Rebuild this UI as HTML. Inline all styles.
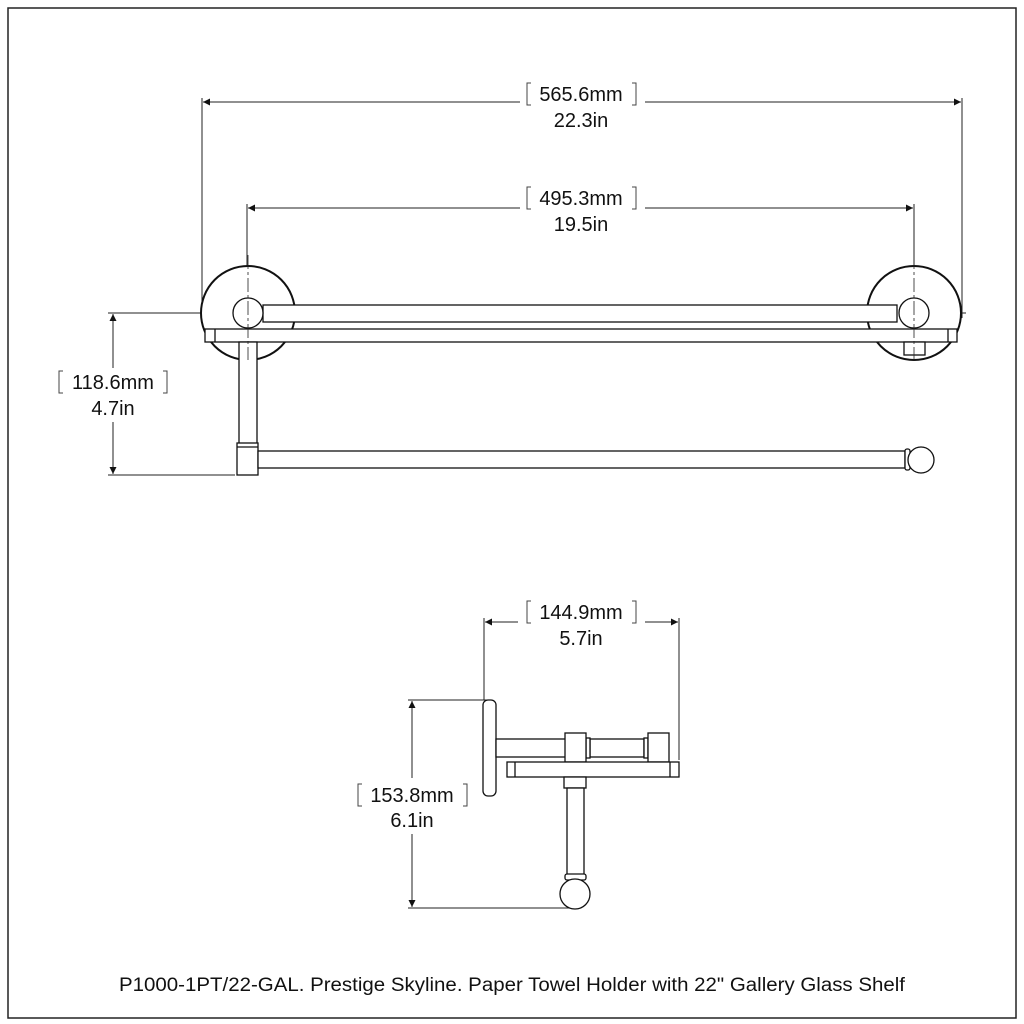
<!DOCTYPE html>
<html><head><style>body{margin:0;background:#fff}svg{display:block}text{font-family:"Liberation Sans",sans-serif;fill:#111}</style></head><body>
<svg width="1024" height="1024" viewBox="0 0 1024 1024" xmlns="http://www.w3.org/2000/svg">
<defs><marker id="a" viewBox="0 0 10 10" refX="10" refY="5" markerWidth="10" markerHeight="7" orient="auto-start-reverse" markerUnits="userSpaceOnUse"><path d="M0,0L10,5L0,10z" fill="#111"/></marker></defs>
<rect x="8" y="8" width="1008" height="1010" fill="none" stroke="#222" stroke-width="1.5"/>
<g stroke="#222" stroke-width="1" fill="none">
<line x1="202" y1="98" x2="202" y2="318"/><line x1="962" y1="98" x2="962" y2="318"/>
<line x1="203" y1="102" x2="520" y2="102" marker-start="url(#a)"/><line x1="645" y1="102" x2="961" y2="102" marker-end="url(#a)"/>
<line x1="247" y1="204" x2="247" y2="335"/><line x1="914" y1="204" x2="914" y2="338"/>
<line x1="248" y1="208" x2="520" y2="208" marker-start="url(#a)"/><line x1="645" y1="208" x2="913" y2="208" marker-end="url(#a)"/>
<line x1="108" y1="313" x2="200" y2="313"/><line x1="108" y1="475" x2="235" y2="475"/>
<line x1="113" y1="314" x2="113" y2="368" marker-start="url(#a)"/><line x1="113" y1="422" x2="113" y2="474" marker-end="url(#a)"/>
<line x1="200" y1="313" x2="296" y2="313" stroke-dasharray="14,3,3,3"/><line x1="866" y1="313" x2="966" y2="313" stroke-dasharray="14,3,3,3"/>
</g>
<g stroke="#111" stroke-width="1.3" fill="#fff">
<circle cx="248" cy="313" r="47" stroke-width="2"/>
<circle cx="914" cy="313" r="47" stroke-width="2"/>
<rect x="263" y="305" width="634" height="17"/>
<rect x="205" y="329" width="752" height="13"/>
<line x1="215" y1="329" x2="215" y2="342"/><line x1="948" y1="329" x2="948" y2="342"/>
<circle cx="248" cy="313" r="15"/><circle cx="914" cy="313" r="15"/>
<rect x="904" y="342" width="21" height="13"/>
<rect x="239" y="342" width="18" height="102"/>
<rect x="237" y="443" width="21" height="32"/>
<line x1="237" y1="447" x2="258" y2="447"/>
<rect x="258" y="451" width="647" height="17"/>
<rect x="905" y="449" width="5" height="21" rx="2"/>
<circle cx="921" cy="460" r="13"/>
</g>
<g stroke="#222" stroke-width="0.8">
<line x1="248" y1="255" x2="248" y2="360" stroke-dasharray="14,3,3,3"/><line x1="914" y1="255" x2="914" y2="362" stroke-dasharray="14,3,3,3"/>
</g>
<g stroke="#222" stroke-width="1" fill="none">
<line x1="484" y1="618" x2="484" y2="700"/><line x1="679" y1="618" x2="679" y2="760"/>
<line x1="485" y1="622" x2="518" y2="622" marker-start="url(#a)"/><line x1="645" y1="622" x2="678" y2="622" marker-end="url(#a)"/>
<line x1="408" y1="700" x2="488" y2="700"/><line x1="408" y1="908" x2="575" y2="908"/>
<line x1="412" y1="701" x2="412" y2="778" marker-start="url(#a)"/><line x1="412" y1="834" x2="412" y2="907" marker-end="url(#a)"/>
</g>
<g stroke="#111" stroke-width="1.3" fill="#fff">
<rect x="483" y="700" width="13" height="96" rx="5"/>
<rect x="496" y="739" width="70" height="18"/>
<rect x="590" y="739" width="54" height="18"/>
<rect x="586" y="738" width="4" height="20"/><rect x="644" y="738" width="4" height="20"/>
<rect x="565" y="733" width="21" height="29"/><rect x="648" y="733" width="21" height="29"/>
<rect x="507" y="762" width="172" height="15"/>
<line x1="515" y1="762" x2="515" y2="777"/><line x1="670" y1="762" x2="670" y2="777"/>
<rect x="564" y="777" width="22" height="11"/>
<rect x="567" y="788" width="17" height="87"/>
<rect x="565" y="874" width="21" height="6" rx="2"/>
<circle cx="575" cy="894" r="15"/>
</g>
<g font-size="20" text-anchor="middle">
<text x="581" y="101">565.6mm</text><text x="581" y="127">22.3in</text>
<text x="581" y="205">495.3mm</text><text x="581" y="231">19.5in</text>
<text x="113" y="389">118.6mm</text><text x="113" y="415">4.7in</text>
<text x="581" y="619">144.9mm</text><text x="581" y="645">5.7in</text>
<text x="412" y="802">153.8mm</text><text x="412" y="827">6.1in</text>
<text x="512" y="991" font-size="19" textLength="786" lengthAdjust="spacingAndGlyphs">P1000-1PT/22-GAL. Prestige Skyline. Paper Towel Holder with 22" Gallery Glass Shelf</text>
</g>
<g stroke="#444" stroke-width="1" fill="none">
<path d="M531,83h-4v22h4M632,83h4v22h-4"/>
<path d="M531,187h-4v22h4M632,187h4v22h-4"/>
<path d="M63,371h-4v22h4M163,371h4v22h-4"/>
<path d="M531,601h-4v22h4M632,601h4v22h-4"/>
<path d="M362,784h-4v22h4M463,784h4v22h-4"/>
</g>
</svg>
</body></html>
